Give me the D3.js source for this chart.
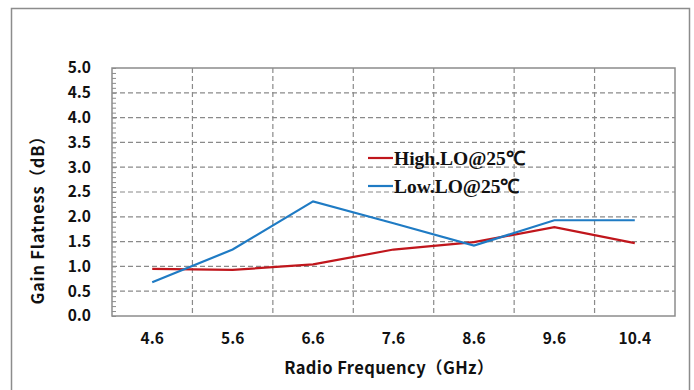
<!DOCTYPE html>
<html>
<head>
<meta charset="utf-8">
<script src="https://cdn.jsdelivr.net/npm/d3@7"></script>
<style>
  body { margin: 0; background: #fff; }
</style>
</head>
<body>
<div id="chart"></div>
<script>
// values
const frequencies = ["4.6", "5.6", "6.6", "7.6", "8.6", "9.6", "10.4"]
const highLO = [0.95, 0.93, 1.04, 1.34, 1.49, 1.79, 1.47]
const lowLO = [0.68, 1.34, 2.31, 1.87, 1.42, 1.93, 1.93]
const yTicks = [0, 0.5, 1, 1.5, 2, 2.5, 3, 3.5, 4, 4.5, 5]
const seriesNames = ["High.LO@25℃", "Low.LO@25℃"]

const width = 694, height = 390
const margin = {top: 68, right: 19, bottom: 74, left: 112}
const sans = "'Noto Sans CJK SC', 'Noto Sans', sans-serif"

const svg = d3.select("#chart").append("svg")
  .attr("width", width)
  .attr("height", height)

// outer frame (bottom runs off the picture)
svg.append("path")
  .attr("d", `M11.5,${height + 2} V8.5 H689.5 V${height + 2}`)
  .attr("fill", "none")
  .attr("stroke", "#8c8c8c")
  .attr("stroke-width", 1.5)

const x = d3.scaleBand()
  .domain(frequencies)
  .range([margin.left, width - margin.right])

const y = d3.scaleLinear()
  .domain([0, 5])
  .range([height - margin.bottom, margin.top])

const grid = svg.append("g")
  .attr("stroke", "#8a8a8a")
  .attr("stroke-width", 1.2)
  .attr("stroke-dasharray", "5,3")

grid.selectAll(".hgrid")
  .data(yTicks.slice(1, -1))
  .join("line")
    .attr("x1", margin.left)
    .attr("x2", width - margin.right)
    .attr("y1", d => y(d))
    .attr("y2", d => y(d))

grid.selectAll(".vgrid")
  .data(frequencies.slice(1))
  .join("line")
    .attr("x1", d => x(d))
    .attr("x2", d => x(d))
    .attr("y1", margin.top)
    .attr("y2", height - margin.bottom)

// minor ticks on left axis
svg.append("g")
  .call(d3.axisRight(y).ticks(50).tickSize(4).tickFormat(""))
  .attr("transform", `translate(${margin.left},0)`)
  .call(g => g.select(".domain").remove())
  .call(g => g.selectAll("line").attr("stroke", "#8c8c8c"))

// plot border
svg.append("rect")
  .attr("x", margin.left)
  .attr("y", margin.top)
  .attr("width", width - margin.left - margin.right)
  .attr("height", height - margin.top - margin.bottom)
  .attr("fill", "none")
  .attr("stroke", "#8c8c8c")
  .attr("stroke-width", 1.5)

// y tick labels
svg.append("g")
  .attr("transform", `translate(${margin.left - 18},0)`)
  .call(d3.axisLeft(y).tickValues(yTicks).tickSize(0).tickFormat(d3.format(".1f")))
  .call(g => g.select(".domain").remove())
  .call(g => g.selectAll("text")
    .attr("font-family", sans)
    .attr("font-weight", "bold")
    .attr("font-size", 15.5)
    .attr("fill", "#111"))

// x tick labels
svg.append("g")
  .attr("transform", `translate(0,${height - margin.bottom + 14})`)
  .call(d3.axisBottom(x).tickSize(0))
  .call(g => g.select(".domain").remove())
  .call(g => g.selectAll("text")
    .attr("font-family", sans)
    .attr("font-weight", "bold")
    .attr("font-size", 15.5)
    .attr("fill", "#111"))

svg.append("text")
  .attr("x", 389)
  .attr("y", 374)
  .attr("text-anchor", "middle")
  .attr("font-family", sans)
  .attr("font-weight", "bold")
  .attr("font-size", 16.5)
  .attr("letter-spacing", 0.4)
  .attr("fill", "#111")
  .text("Radio Frequency（GHz）")

svg.append("text")
  .attr("transform", `translate(44,216) rotate(-90)`)
  .attr("text-anchor", "middle")
  .attr("font-family", sans)
  .attr("font-weight", "bold")
  .attr("font-size", 16.5)
  .attr("letter-spacing", 0.8)
  .attr("fill", "#111")
  .text("Gain Flatness（dB）")

const line = d3.line()
  .x((d, i) => x(frequencies[i]) + x.bandwidth() / 2)
  .y(d => y(d))

const colors = ["#c0161c", "#1f7bc4"]

svg.selectAll(".series")
  .data([highLO, lowLO])
  .join("path")
    .attr("d", d => line(d))
    .attr("fill", "none")
    .attr("stroke", (d, i) => colors[i])
    .attr("stroke-width", 2.2)

// legend
const legend = svg.append("g")
  .attr("transform", "translate(368,158)")

legend.selectAll("line")
  .data(seriesNames)
  .join("line")
    .attr("x1", 0)
    .attr("x2", 25)
    .attr("y1", (d, i) => i * 28)
    .attr("y2", (d, i) => i * 28)
    .attr("stroke", (d, i) => colors[i])
    .attr("stroke-width", 2.2)

legend.selectAll("text")
  .data(seriesNames)
  .join("text")
    .attr("x", 26)
    .attr("y", (d, i) => i * 28 + 7)
    .attr("font-family", "'Liberation Serif', 'Times New Roman', serif")
    .attr("font-weight", "bold")
    .attr("font-size", 19.5)
    .attr("fill", "#111")
    .text(d => d)
</script>
</body>
</html>
